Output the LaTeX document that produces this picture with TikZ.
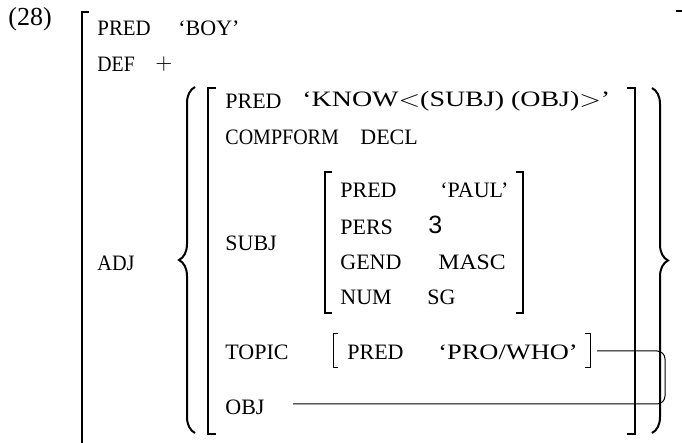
\documentclass[tikz,border=0pt]{standalone}
\usepackage{graphicx}
\usepackage{fontspec}
\setmainfont{Liberation Serif}
\newfontfamily\numfont{Liberation Sans}
\usetikzlibrary{calc}
\usetikzlibrary{decorations.pathreplacing}

% some texts are set a little wider or narrower
\newcommand{\wideval}[2]{\scalebox{#1}[1]{#2}}

\begin{document}
\begin{tikzpicture}[x=0.5pt,y=-0.5pt,
    attr/.style={anchor=west,inner sep=0pt,font=\fontsize{11}{13}\selectfont},
    val/.style={attr},
    bracket/.style={line width=1pt},
    thinbracket/.style={line width=0.6pt},
    curly/.style={line width=1pt,decorate,decoration={brace,amplitude=8pt}}]
            \useasboundingbox (0,0) rectangle (682,443);

            % Define the corners of the brackets
            \coordinate (OutL) at (82,12);
            \coordinate (InL) at (208,88);
            \coordinate (InR) at (635,88);
            \coordinate (SubL) at (325,172);
            \coordinate (SubR) at (523,172);
            \coordinate (TopL) at (333,334);
            \coordinate (TopR) at (590,334);
            \coordinate (Hook) at (665,0);

            % Draw the outer f-structure
            \node[attr,font=\fontsize{13}{14}\selectfont] (num) at (8,19) {(28)};
            \draw[bracket] ($(OutL)+(7,0)$) -- (OutL) -- (82,460);
            \draw[bracket,line width=0.8pt] (676,11) -- (683,11);
            \node[attr] (pred1) at (97,28) {\wideval{0.95}{PRED}};
            \node[val] (boy) at (178,28) {‘BOY’};
            \node[attr] (def) at (97,64) {\wideval{0.9}{DEF}};
            \node[attr] (plus) at (155,64) {$+$};
            \node[attr] (adj) at (97,263) {\wideval{0.92}{ADJ}};

            % Draw the set braces
            \draw[curly] (195,433) -- (195,87);
            \draw[curly] (652,88) -- (652,433);

            % Draw the adjunct f-structure
            \draw[bracket] ($(InL)+(8,0)$) -- (InL) -- (208,434) -- (216,434);
            \draw[bracket] ($(InR)+(-8,0)$) -- (InR) -- (635,434) -- (627,434);
            \node[attr] (pred2) at (225,101) {PRED};
            \node[val] (know) at (302,101) {\wideval{1.27}{‘KNOW$<$(SUBJ)~(OBJ)$>$’}};
            \node[attr] (compform) at (225,137) {\wideval{0.91}{COMPFORM}};
            \node[val] (decl) at (360,137) {DECL};
            \node[attr] (subj) at (225,243) {SUBJ};
            \node[attr] (topic) at (225,352) {TOPIC};
            \node[attr] (obj) at (225,407) {OBJ};

            % Draw the subject f-structure
            \draw[thinbracket] ($(SubL)+(7,0)$) -- (SubL) -- (325,313) -- (332,313);
            \draw[thinbracket] ($(SubR)+(-7,0)$) -- (SubR) -- (523,313) -- (516,313);
            \node[attr] (pred3) at (340,190) {PRED};
            \node[val] (paul) at (440,190) {‘PAUL’};
            \node[attr] (pers) at (340,227) {PERS};
            \node[attr] (three) at (428,225) {\numfont\fontsize{12.5}{13}\selectfont 3};
            \node[attr] (gend) at (340,262) {GEND};
            \node[val] (masc) at (438,262) {\wideval{1.08}{MASC}};
            \node[attr] (numb) at (340,297) {NUM};
            \node[val] (sg) at (427,297) {SG};

            % Draw the topic f-structure
            \draw[line width=0.5pt] ($(TopL)+(5,0)$) -- (TopL) -- (333,368) -- (338,368);
            \draw[line width=0.5pt] ($(TopR)+(-5,0)$) -- (TopR) -- (590,368) -- (585,368);
            \node[attr] (pred4) at (347,352) {PRED};
            \node[val] (who) at (438,352) {\wideval{1.2}{‘PRO/WHO’}};

            % Draw the functional control line
            \coordinate (TopEnd) at (597,351);
            \coordinate (ObjEnd) at (293,404);
            \draw[line width=0.5pt,rounded corners=4] (TopEnd) -- (TopEnd -| Hook) |- (ObjEnd);

        \end{tikzpicture}
\end{document}
